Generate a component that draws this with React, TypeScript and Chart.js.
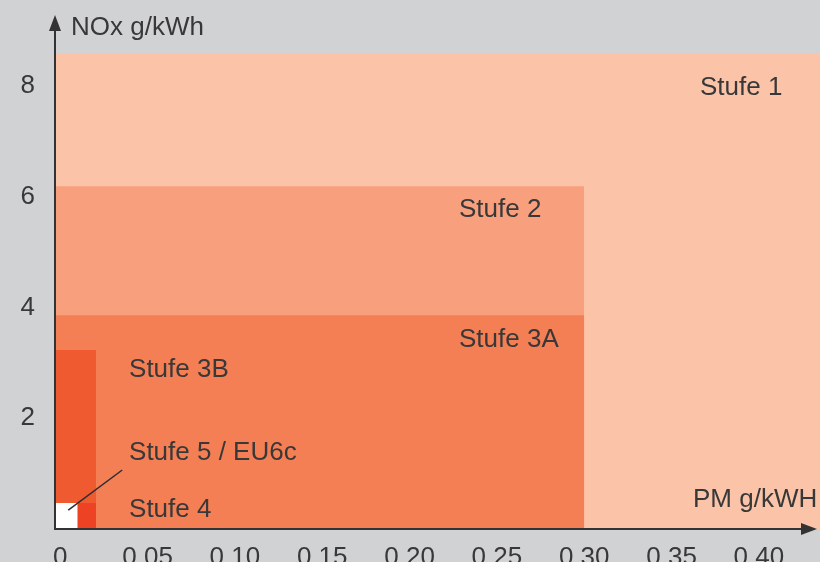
import React, { useEffect, useRef } from 'react';
import { Chart, registerables } from 'chart.js';

Chart.register(...registerables);

// ---- Data ----
const STAGES = ['Stufe 5 / EU6c', 'Stufe 4', 'Stufe 3B', 'Stufe 3A', 'Stufe 2', 'Stufe 1'];
const PM_LIMITS = [0.01, 0.0205, 0.0205, 0.3, 0.3, 0.5];
const NOX_LIMITS = [0.47, 0.47, 3.23, 3.86, 6.19, 8.59];
const STAGE_COLORS = ['#ffffff', '#ee4225', '#ef5a30', '#f47f55', '#f89f7e', '#fbc4a8'];

const X_TICKS = [0, 0.05, 0.1, 0.15, 0.2, 0.25, 0.3, 0.35, 0.4];
const X_TICK_LABELS = ['0', '0,05', '0,10', '0,15', '0,20', '0,25', '0,30', '0,35', '0,40'];
const Y_TICKS = [2, 4, 6, 8];
const Y_TICK_LABELS = ['2', '4', '6', '8'];

const X_MIN = -0.003;
const X_MAX = 0.435;
const Y_MIN = 0;
const Y_MAX = 9.28;

const X_TITLE = 'PM g/kWH';
const Y_TITLE = 'NOx g/kWh';

// Leader line from the Stufe 5 box to its label
const LEADER_X = [0.0046, 0.0355];
const LEADER_Y = [0.34, 1.065];

// Text labels (data coordinates, alphabetic baseline)
const TEXT_LABELS = ['Stufe 1', 'Stufe 2', 'Stufe 3A', 'Stufe 3B', 'Stufe 5 / EU6c', 'Stufe 4', X_TITLE, Y_TITLE];
const TEXT_X = [0.3663, 0.2283, 0.2283, 0.0394, 0.0394, 0.0394, 0.3623, 0.0062];
const TEXT_Y = [7.83, 5.63, 3.285, 2.744, 1.245, 0.217, 0.397, 8.92];

const FONT_FAMILY = '"Liberation Sans", Arial, Helvetica, sans-serif';
const TEXT_COLOR = '#383838';
const AXIS_COLOR = '#333333';
const BG = '#d1d2d4';

const overlayPlugin = {
  id: 'overlay',
  afterDatasetsDraw(chart: any) {
    const { ctx, chartArea, scales } = chart;
    const xs = scales.x;
    const ys = scales.y;
    ctx.save();
    const x0 = chartArea.left;
    const y0 = chartArea.bottom;
    ctx.strokeStyle = AXIS_COLOR;
    ctx.fillStyle = AXIS_COLOR;
    ctx.lineWidth = 2;
    ctx.beginPath();
    ctx.moveTo(x0, y0);
    ctx.lineTo(x0, chartArea.top + 10);
    ctx.moveTo(x0 - 1, y0);
    ctx.lineTo(chartArea.right - 12, y0);
    ctx.stroke();
    // y arrow head
    ctx.beginPath();
    ctx.moveTo(x0, chartArea.top);
    ctx.lineTo(x0 - 6, chartArea.top + 16);
    ctx.lineTo(x0 + 6, chartArea.top + 16);
    ctx.closePath();
    ctx.fill();
    // x arrow head
    const tipX = chartArea.right - 3;
    ctx.beginPath();
    ctx.moveTo(tipX, y0);
    ctx.lineTo(tipX - 16, y0 - 6);
    ctx.lineTo(tipX - 16, y0 + 6);
    ctx.closePath();
    ctx.fill();

    // texts
    ctx.font = `26px ${FONT_FAMILY}`;
    ctx.fillStyle = TEXT_COLOR;
    ctx.textAlign = 'left';
    ctx.textBaseline = 'alphabetic';
    TEXT_LABELS.forEach((t, i) => {
      ctx.fillText(t, xs.getPixelForValue(TEXT_X[i]), ys.getPixelForValue(TEXT_Y[i]));
    });
    ctx.restore();
  },
};

export default function App() {
  const canvasRef = useRef<HTMLCanvasElement | null>(null);

  useEffect(() => {
    document.body.style.margin = '0';
    const canvas = canvasRef.current;
    if (!canvas) return;

    const regionSets = STAGES.map((name, i) => ({
      label: name,
      data: [
        { x: X_MIN, y: NOX_LIMITS[i] },
        { x: PM_LIMITS[i], y: NOX_LIMITS[i] },
      ],
      borderColor: 'rgba(0,0,0,0)',
      borderWidth: 0,
      backgroundColor: STAGE_COLORS[i],
      fill: 'origin',
      pointRadius: 0,
      pointHoverRadius: 0,
      tension: 0,
      order: i + 2,
    }));

    const leader = {
      label: 'leader',
      data: LEADER_X.map((x, i) => ({ x, y: LEADER_Y[i] })),
      borderColor: '#2e2e2e',
      borderWidth: 1.5,
      backgroundColor: 'rgba(0,0,0,0)',
      fill: false,
      pointRadius: 0,
      tension: 0,
      order: 0,
    };

    const chart = new Chart(canvas, {
      type: 'line',
      data: { datasets: [...regionSets, leader] as any },
      options: {
        animation: false,
        responsive: false,
        maintainAspectRatio: false,
        events: [],
        layout: { padding: { top: 15, right: 0, left: 0, bottom: 0 } },
        plugins: {
          legend: { display: false },
          tooltip: { enabled: false },
          title: { display: false },
        },
        scales: {
          x: {
            type: 'linear',
            min: X_MIN,
            max: X_MAX,
            grid: { display: false },
            border: { display: false },
            afterBuildTicks: (scale: any) => {
              scale.ticks = X_TICKS.map((v) => ({ value: v }));
            },
            afterFit: (scale: any) => {
              scale.height = 33;
              scale.paddingLeft = 0;
              scale.paddingRight = 0;
            },
            ticks: {
              autoSkip: false,
              maxRotation: 0,
              minRotation: 0,
              padding: 5,
              color: TEXT_COLOR,
              font: { family: FONT_FAMILY, size: 26 },
              callback: (value: any) => {
                const idx = X_TICKS.findIndex((t) => Math.abs(t - Number(value)) < 1e-9);
                return idx >= 0 ? X_TICK_LABELS[idx] : '';
              },
            },
          },
          y: {
            type: 'linear',
            min: Y_MIN,
            max: Y_MAX,
            grid: { display: false },
            border: { display: false },
            afterBuildTicks: (scale: any) => {
              scale.ticks = Y_TICKS.map((v) => ({ value: v }));
            },
            afterFit: (scale: any) => {
              scale.width = 55;
              scale.paddingTop = 0;
              scale.paddingBottom = 0;
            },
            ticks: {
              autoSkip: false,
              padding: 12,
              color: TEXT_COLOR,
              font: { family: FONT_FAMILY, size: 26 },
              callback: (value: any) => {
                const idx = Y_TICKS.findIndex((t) => Math.abs(t - Number(value)) < 1e-9);
                return idx >= 0 ? Y_TICK_LABELS[idx] : '';
              },
            },
          },
        },
      },
      plugins: [overlayPlugin],
    });

    return () => {
      chart.destroy();
    };
  }, []);

  return (
    <div
      style={{
        position: 'fixed',
        left: 0,
        top: 0,
        width: 820,
        height: 562,
        background: BG,
      }}
    >
      <canvas ref={canvasRef} width={820} height={562} style={{ display: 'block', width: 820, height: 562 }} />
    </div>
  );
}
